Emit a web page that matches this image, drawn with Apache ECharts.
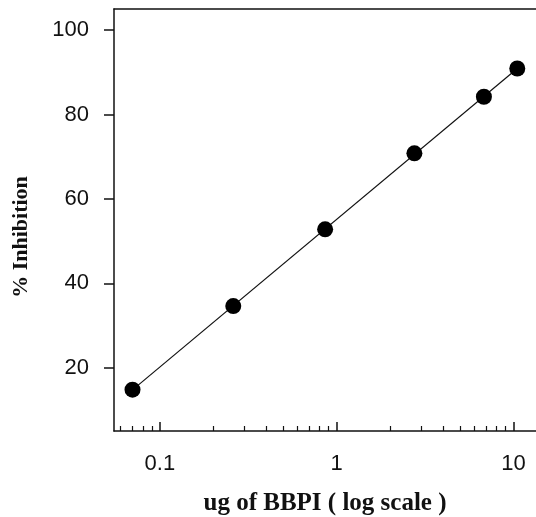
<!DOCTYPE html>
<html>
<head>
<meta charset="utf-8">
<script src="https://cdn.jsdelivr.net/npm/echarts@6/dist/echarts.min.js"></script>
<style>
  html, body { margin: 0; padding: 0; background: #fff; }
  #chart { width: 536px; height: 517px; }
</style>
</head>
<body>
<div id="chart"></div>
<script>
// data
const doses = [0.07, 0.26, 0.86, 2.75, 6.8, 10.5];       // ug of BBPI
const inhibition = [14.8, 34.6, 52.8, 70.8, 84.2, 90.9]; // %
const xLabels = [0.1, 1, 10];
const xMinorTicks = [0.06, 0.07, 0.08, 0.09, 0.2, 0.3, 0.4, 0.5, 0.6, 0.7, 0.8, 0.9,
  2, 3, 4, 5, 6, 7, 8, 9];
const yLabels = [20, 40, 60, 80, 100];

// least squares fit of % vs log10(dose) for the straight line
const lx = doses.map(d => Math.log10(d));
const n = lx.length;
const mx = lx.reduce((a, b) => a + b, 0) / n;
const my = inhibition.reduce((a, b) => a + b, 0) / n;
let sxy = 0, sxx = 0;
lx.forEach((v, i) => { sxy += (v - mx) * (inhibition[i] - my); sxx += (v - mx) * (v - mx); });
const slope = sxy / sxx;
const icpt = my - slope * mx;
const fitX = [doses[0], doses[n - 1]];
const fitLine = fitX.map(d => [d, icpt + slope * Math.log10(d)]);

const chart = echarts.init(document.getElementById('chart'));
const ink = '#111';
const xMin = 0.055, xMax = 13.4;

chart.setOption({
  animation: false,
  grid: { left: 114, top: 9, right: 0, bottom: 86, containLabel: false, outerBoundsMode: 'none' },
  xAxis: [
    {
      type: 'log', logBase: 10, min: xMin, max: xMax,
      axisLine: { lineStyle: { color: ink, width: 1.5 } },
      axisTick: { inside: true, length: 9, customValues: xLabels, lineStyle: { color: ink, width: 1.5 } },
      axisLabel: { customValues: xLabels, color: ink, fontFamily: 'Liberation Sans', fontSize: 22, margin: 22 },
      splitLine: { show: false },
      name: 'ug of BBPI ( log scale )',
      nameLocation: 'middle', nameGap: 60,
      nameTextStyle: { fontFamily: 'Liberation Serif', fontWeight: 'bold', fontSize: 25, color: ink }
    },
    {
      // minor ticks along the bottom
      type: 'log', logBase: 10, min: xMin, max: xMax, position: 'bottom',
      axisLine: { show: false },
      axisTick: { inside: true, length: 5, customValues: xMinorTicks, lineStyle: { color: ink, width: 1.2 } },
      axisLabel: { show: false },
      splitLine: { show: false }
    },
    {
      // top frame line
      type: 'log', logBase: 10, min: xMin, max: xMax, position: 'top',
      axisLine: { lineStyle: { color: ink, width: 1.5 } },
      axisTick: { show: false },
      axisLabel: { show: false },
      splitLine: { show: false }
    }
  ],
  yAxis: {
    type: 'value', min: 5, max: 105,
    axisLine: { show: true, lineStyle: { color: ink, width: 1.5 } },
    axisTick: { show: true, length: 10, customValues: yLabels, lineStyle: { color: ink, width: 1.5 } },
    axisLabel: { customValues: yLabels, color: ink, fontFamily: 'Liberation Sans', fontSize: 22, margin: 25 },
    splitLine: { show: false },
    name: '% Inhibition',
    nameLocation: 'middle', nameGap: 82,
    nameTextStyle: { fontFamily: 'Liberation Serif', fontWeight: 'bold', fontSize: 22, color: ink, padding: [0, 34, 0, 0] }
  },
  series: [
    {
      type: 'line',
      data: fitLine,
      showSymbol: false,
      lineStyle: { color: ink, width: 1.2 },
      z: 2
    },
    {
      type: 'scatter',
      data: doses.map((d, i) => [d, inhibition[i]]),
      symbolSize: 16,
      itemStyle: { color: '#000', opacity: 1 },
      z: 3
    }
  ]
});
</script>
</body>
</html>
